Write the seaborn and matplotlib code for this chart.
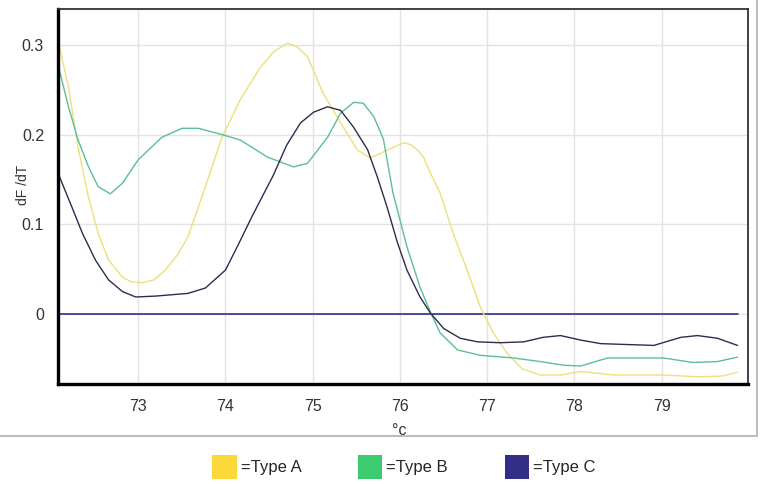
import numpy as np
import pandas as pd
import matplotlib
matplotlib.use("Agg")
import matplotlib.pyplot as plt
import seaborn as sns
from matplotlib.patches import Patch
from matplotlib.lines import Line2D

# melt curves
temp_a = [72.08, 72.20, 72.31, 72.43, 72.54, 72.66, 72.82, 72.92, 73.05, 73.18, 73.31, 73.45,
          73.57, 73.77, 73.96, 74.17, 74.40, 74.55, 74.71, 74.82, 74.94, 75.12, 75.32, 75.51,
          75.66, 75.86, 76.04, 76.12, 76.20, 76.27, 76.35, 76.46, 76.61, 76.77, 76.92, 77.07,
          77.23, 77.40, 77.61, 77.85, 78.07, 78.45, 79.00, 79.45, 79.70, 79.87]
dfdt_a = [0.305, 0.253, 0.186, 0.130, 0.090, 0.060, 0.041, 0.036, 0.035, 0.038, 0.049, 0.066,
          0.086, 0.142, 0.197, 0.239, 0.275, 0.292, 0.302, 0.298, 0.287, 0.246, 0.213, 0.183,
          0.174, 0.183, 0.191, 0.189, 0.183, 0.175, 0.157, 0.135, 0.090, 0.049, 0.008, -0.021,
          -0.044, -0.061, -0.068, -0.068, -0.064, -0.068, -0.068, -0.070, -0.069, -0.065]

temp_b = [72.08, 72.20, 72.31, 72.43, 72.54, 72.68, 72.82, 73.00, 73.27, 73.50, 73.69, 73.96,
          74.17, 74.48, 74.78, 74.94, 75.17, 75.32, 75.47, 75.58, 75.70, 75.81, 75.92, 76.08,
          76.23, 76.35, 76.46, 76.66, 76.92, 77.30, 77.61, 77.87, 78.07, 78.38, 79.02, 79.36,
          79.64, 79.87]
dfdt_b = [0.278, 0.231, 0.194, 0.164, 0.142, 0.134, 0.146, 0.172, 0.197, 0.207, 0.207, 0.200,
          0.194, 0.175, 0.164, 0.168, 0.197, 0.224, 0.236, 0.235, 0.220, 0.195, 0.135, 0.075,
          0.030, 0.002, -0.021, -0.040, -0.046, -0.049, -0.053, -0.057, -0.058, -0.049, -0.049,
          -0.054, -0.053, -0.048]

temp_c = [72.08, 72.24, 72.36, 72.51, 72.66, 72.82, 72.97, 73.20, 73.57, 73.77, 74.00, 74.15,
          74.30, 74.55, 74.70, 74.86, 75.01, 75.17, 75.32, 75.47, 75.63, 75.74, 75.85, 75.97,
          76.08, 76.23, 76.35, 76.50, 76.69, 76.89, 77.15, 77.42, 77.64, 77.84, 78.07, 78.30,
          78.91, 79.22, 79.41, 79.64, 79.87]
dfdt_c = [0.157, 0.119, 0.090, 0.060, 0.038, 0.025, 0.019, 0.020, 0.023, 0.029, 0.049, 0.078,
          0.108, 0.155, 0.188, 0.213, 0.225, 0.231, 0.227, 0.208, 0.183, 0.153, 0.120, 0.080,
          0.049, 0.019, 0.001, -0.016, -0.027, -0.031, -0.032, -0.031, -0.026, -0.024, -0.029,
          -0.033, -0.035, -0.026, -0.024, -0.027, -0.035]

baseline_t = [72.08, 79.87]
baseline_y = [0.0, 0.0]

types = ["Type A", "Type B", "Type C"]
legend_colors = ["#FADA3A", "#3DCB70", "#342F86"]
line_colors = ["#EDE07A", "#5CBE98", "#2E2C4E"]

df = pd.concat([
    pd.DataFrame({"temp": temp_a, "dfdt": dfdt_a, "type": "Type A"}),
    pd.DataFrame({"temp": temp_b, "dfdt": dfdt_b, "type": "Type B"}),
    pd.DataFrame({"temp": temp_c, "dfdt": dfdt_c, "type": "Type C"}),
])

sns.set_style("white")
plt.rcParams['font.family'] = ['Liberation Sans', 'DejaVu Sans']

fig = plt.figure(figsize=(7.6, 4.84), dpi=100)
ax = fig.add_axes([58/760, 1-384/484, 690/760, 375/484])

ax.plot(baseline_t, baseline_y, color="#2E2E8C", lw=1.2, zorder=1)
sns.lineplot(data=df, x="temp", y="dfdt", hue="type", palette=line_colors,
             lw=1.0, legend=False, ax=ax, sort=False, zorder=2,
             solid_joinstyle="round", solid_capstyle="round")

ax.set_xlim(72.08, 79.99)
ax.set_ylim(-0.078, 0.34)
ax.set_xticks([73, 74, 75, 76, 77, 78, 79])
ax.set_yticks([0, 0.1, 0.2, 0.3])
ax.set_yticklabels(["0", "0.1", "0.2", "0.3"])
ax.grid(True, color="#E3E3E3", lw=1)
ax.tick_params(axis="both", direction="out", length=4, width=1, color="#555555",
               labelsize=11.5, labelcolor="#333333")
ax.tick_params(axis="x", pad=7)
ax.tick_params(axis="y", pad=6)
ax.set_xlabel("°c", fontsize=11.5, color="#333333")
ax.xaxis.set_label_coords((399 - 58) / 690, (384 - 423) / 375)
ax.set_ylabel("dF /dT", fontsize=10, color="#333333")
ax.yaxis.set_label_coords((30 - 58) / 690, (384 - 185) / 375)

for side in ["left", "bottom"]:
    ax.spines[side].set_linewidth(2.4)
    ax.spines[side].set_color("black")
for side in ["top", "right"]:
    ax.spines[side].set_linewidth(1.3)
    ax.spines[side].set_color("#333333")

# outer panel border
fig.add_artist(Line2D([0, 757/760], [1-436/484, 1-436/484], color="#BDBDBD", lw=1.5,
                      transform=fig.transFigure))
fig.add_artist(Line2D([757/760, 757/760], [1-436/484, 1], color="#BDBDBD", lw=1.5,
                      transform=fig.transFigure))

handles = [Patch(facecolor=c, edgecolor="none") for c in legend_colors]
fig.legend(handles, ["=" + t for t in types], loc="center", bbox_to_anchor=(404/760, 1-467/484),
           ncol=3, frameon=False, fontsize=12, handlelength=1.45, handleheight=1.8,
           handletextpad=0.25, columnspacing=3.4)

fig.savefig("out.png", dpi=100)
